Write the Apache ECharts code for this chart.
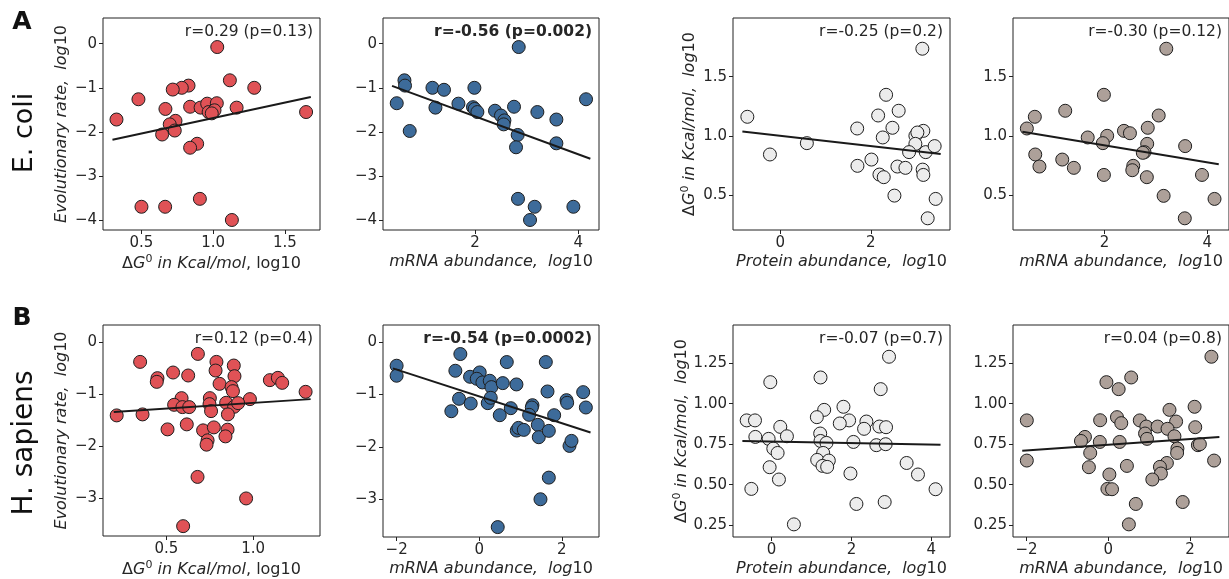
<!DOCTYPE html>
<html>
<head>
<meta charset="utf-8">
<script src="https://cdn.jsdelivr.net/npm/echarts/dist/echarts.min.js"></script>
<style>
html,body{margin:0;padding:0;background:#fff;}
#chart{width:1229px;height:579px;}
</style>
</head>
<body>
<div id="chart"></div>
<script>
// ---------- DATA ----------
// Row A: E. coli
const ecoliDG_A1 = [1.028,1.116,1.286,0.828,0.781,0.718,0.479,0.667,0.839,0.912,0.958,1.025,0.968,1.009,0.990,1.163,1.647,0.326,0.737,0.697,0.732,0.644,0.888,0.839,0.500,0.665,0.907,1.130];
const ecoliRate_A1 = [-0.075,-0.83,-1.0,-0.95,-1.0,-1.04,-1.26,-1.48,-1.43,-1.45,-1.36,-1.35,-1.55,-1.51,-1.58,-1.45,-1.55,-1.72,-1.75,-1.83,-1.97,-2.06,-2.27,-2.36,-3.70,-3.70,-3.52,-4.0];
const fitA1_x = [0.298, 1.68];
const fitA1_y = [-2.18, -1.21];

const ecoliMRNA_A2 = [2.846,0.634,0.645,0.485,0.736,1.176,1.40,1.234,1.679,1.988,1.961,1.994,2.046,2.387,2.503,2.569,2.555,2.755,2.826,2.794,3.207,3.575,3.575,4.149,2.832,3.155,3.065,3.904];
const ecoliRate_A2 = [-0.075,-0.83,-0.95,-1.35,-1.98,-1.0,-1.045,-1.45,-1.36,-1.0,-1.44,-1.48,-1.55,-1.52,-1.63,-1.74,-1.83,-1.43,-2.07,-2.35,-1.55,-1.72,-2.26,-1.26,-3.52,-3.70,-4.0,-3.70];
const fitA2_x = [0.394, 4.233];
const fitA2_y = [-0.955, -2.61];

const ecoliProt_A3 = [3.139,-0.728,-0.229,0.587,2.338,2.616,2.162,1.699,2.478,2.264,2.985,3.161,3.029,2.985,2.846,3.213,3.411,2.014,1.705,2.588,2.765,2.191,2.286,3.146,3.161,2.522,3.433,3.257];
const ecoliDG_A3 = [1.737,1.161,0.842,0.938,1.347,1.212,1.172,1.062,1.068,0.986,1.0,1.042,1.028,0.932,0.862,0.862,0.913,0.799,0.746,0.74,0.729,0.672,0.650,0.714,0.669,0.494,0.466,0.302];
const fitA3_x = [-0.838, 3.544];
const fitA3_y = [1.036, 0.847];

const ecoliMRNA_A4 = [3.202,1.987,1.234,0.642,3.054,0.487,2.841,2.378,2.494,1.672,2.051,1.967,2.830,2.778,2.745,3.569,0.650,1.176,0.732,1.402,2.559,2.540,1.987,2.823,3.897,3.15,4.141,3.562];
const ecoliDG_A4 = [1.737,1.347,1.212,1.161,1.172,1.062,1.068,1.042,1.022,0.986,1.0,0.938,0.932,0.862,0.856,0.913,0.842,0.799,0.74,0.729,0.746,0.709,0.669,0.650,0.669,0.492,0.466,0.302];
const fitA4_x = [0.399, 4.224];
const fitA4_y = [1.034, 0.760];

// Row B: H. sapiens
const humanDG_B1 = [0.681,0.348,0.788,0.888,0.783,0.538,0.625,0.892,0.448,0.444,0.806,0.875,0.883,1.096,1.142,1.167,1.302,0.587,0.75,0.981,0.544,0.592,0.631,0.748,0.844,0.890,0.913,0.213,0.362,0.757,0.854,0.506,0.617,0.711,0.773,0.852,0.840,0.737,0.731,0.679,0.959,0.596];
const humanRate_B1 = [-0.229,-0.382,-0.382,-0.452,-0.548,-0.586,-0.643,-0.656,-0.694,-0.765,-0.803,-0.866,-0.943,-0.732,-0.688,-0.784,-0.956,-1.077,-1.077,-1.096,-1.205,-1.249,-1.249,-1.192,-1.166,-1.243,-1.173,-1.408,-1.389,-1.326,-1.389,-1.676,-1.580,-1.695,-1.638,-1.682,-1.810,-1.886,-1.969,-2.587,-3.0,-3.531];
const fitB1_x = [0.196, 1.331];
const fitB1_y = [-1.345, -1.096];

const humanMRNA_B2 = [-2.0,-2.0,-0.457,-0.578,-0.222,0.012,-0.06,0.077,0.255,0.295,0.667,0.570,0.901,1.612,1.653,2.517,-0.489,-0.206,0.206,0.279,-0.675,0.497,0.764,1.289,1.273,1.208,2.113,2.129,2.582,1.814,1.418,0.909,0.95,1.079,1.442,1.685,2.186,2.234,1.685,1.483,0.448];
const humanRate_B2 = [-0.452,-0.643,-0.229,-0.548,-0.663,-0.580,-0.701,-0.771,-0.739,-0.860,-0.382,-0.784,-0.809,-0.382,-0.943,-0.956,-1.083,-1.173,-1.166,-1.064,-1.32,-1.396,-1.262,-1.205,-1.249,-1.389,-1.109,-1.160,-1.249,-1.396,-1.580,-1.689,-1.638,-1.676,-1.816,-1.695,-1.982,-1.886,-2.587,-3.0,-3.531];
const fitB2_x = [-2.09, 2.695];
const fitB2_y = [-0.503, -1.727];

const humanProt_B3 = [2.942,1.225,-0.033,2.733,1.8,1.317,1.133,-0.625,-0.417,1.942,1.708,2.375,2.317,2.7,2.867,0.217,0.383,-0.408,1.217,1.225,1.375,-0.075,2.05,2.625,2.858,0.042,0.15,1.292,1.142,1.433,1.275,1.392,-0.05,0.183,-0.508,1.975,3.383,3.667,4.108,2.125,2.833,0.558];
const humanDG_B3 = [1.290,1.162,1.133,1.090,0.981,0.962,0.917,0.897,0.897,0.897,0.878,0.890,0.845,0.859,0.855,0.857,0.799,0.795,0.816,0.770,0.758,0.783,0.764,0.744,0.75,0.723,0.696,0.696,0.653,0.649,0.616,0.610,0.608,0.532,0.474,0.569,0.634,0.563,0.472,0.381,0.393,0.255];
const fitB3_x = [-0.733, 4.233];
const fitB3_y = [0.769, 0.746];

const humanMRNA_B4 = [2.525,0.562,-0.044,0.255,2.113,1.499,-1.992,-0.198,0.214,0.319,0.772,1.661,0.933,1.208,1.451,2.129,0.901,1.620,-0.570,-0.667,0.949,-0.206,0.279,2.194,2.242,1.693,1.685,-0.441,-1.992,2.59,1.435,1.265,-0.473,0.457,1.289,0.028,1.079,-0.02,0.093,1.822,0.675,0.505];
const humanDG_B4 = [1.290,1.162,1.133,1.090,0.981,0.962,0.897,0.898,0.917,0.880,0.897,0.890,0.859,0.859,0.845,0.855,0.816,0.799,0.795,0.770,0.783,0.764,0.764,0.744,0.75,0.723,0.696,0.696,0.649,0.649,0.634,0.610,0.608,0.616,0.569,0.563,0.532,0.474,0.472,0.393,0.381,0.255];
const fitB4_x = [-2.104, 2.72];
const fitB4_y = [0.709, 0.795];

// Tick values
const ticksA1x = [0.5, 1.0, 1.5];
const ticksA2x = [2, 4];
const ticksA3x = [0, 2];
const ticksA4x = [2, 4];
const ticksRateA = [0, -1, -2, -3, -4];
const ticksDGA = [0.5, 1.0, 1.5];
const ticksB1x = [0.5, 1.0];
const ticksB2x = [-2, 0, 2];
const ticksB3x = [0, 2, 4];
const ticksB4x = [-2, 0, 2];
const ticksRateB = [0, -1, -2, -3];
const ticksDGB = [0.25, 0.50, 0.75, 1.00, 1.25];

// Annotations
const notes = ['r=0.29 (p=0.13)', 'r=-0.56 (p=0.002)', 'r=-0.25 (p=0.2)', 'r=-0.30 (p=0.12)',
               'r=0.12 (p=0.4)', 'r=-0.54 (p=0.0002)', 'r=-0.07 (p=0.7)', 'r=0.04 (p=0.8)'];
const noteBold = [false, true, false, false, false, true, false, false];

// ---------- STYLE / LAYOUT ----------
const FONT = 'DejaVu Sans';
const TXT = '#262626';
const RED = '#e05256', BLUE = '#3d6b9a', LIGHT = '#ececec', TAUPE = '#ada099';

const rich = {
  n: {fontFamily: FONT, fontSize: 16, color: TXT},
  i: {fontFamily: FONT, fontSize: 16, color: TXT, fontStyle: 'italic'},
  s: {fontFamily: FONT, fontSize: 11, color: TXT, padding: [0, 0, 9, 0]}
};
const nameDG = '{n|Δ}{i|G}{s|0}{i| in Kcal/mol}{n|, log10}';
const nameDGy = '{n|Δ}{i|G}{s|0}{i| in Kcal/mol,  log}{n|10}';
const nameMRNA = '{i|mRNA abundance,  log}{n|10}';
const nameProt = '{i|Protein abundance,  log}{n|10}';
const nameRate = '{i|Evolutionary rate,  log}{n|10}';

const panels = [
  {L:103, T:18, W:217, H:212, vis:217, x:ecoliDG_A1, y:ecoliRate_A1, fx:fitA1_x, fy:fitA1_y, c:RED, xr:[0.232,1.744], yr:[-4.227,0.584], xt:ticksA1x, yt:ticksRateA, xd:1, yd:0, xn:nameDG, yn:nameRate},
  {L:383, T:18, W:216, H:212, vis:216, x:ecoliMRNA_A2, y:ecoliRate_A2, fx:fitA2_x, fy:fitA2_y, c:BLUE, xr:[0.219,4.40], yr:[-4.227,0.584], xt:ticksA2x, yt:ticksRateA, xd:0, yd:0, xn:nameMRNA, yn:null},
  {L:733, T:18, W:217, H:212, vis:217, x:ecoliProt_A3, y:ecoliDG_A3, fx:fitA3_x, fy:fitA3_y, c:LIGHT, xr:[-1.045,3.75], yr:[0.203,1.997], xt:ticksA3x, yt:ticksDGA, xd:0, yd:1, xn:nameProt, yn:nameDGy},
  {L:1013, T:18, W:218, H:212, vis:216, x:ecoliMRNA_A4, y:ecoliDG_A4, fx:fitA4_x, fy:fitA4_y, c:TAUPE, xr:[0.217,4.423], yr:[0.203,1.997], xt:ticksA4x, yt:ticksDGA, xd:0, yd:1, xn:nameMRNA, yn:null},
  {L:103, T:325, W:217, H:212, vis:217, x:humanDG_B1, y:humanRate_B1, fx:fitB1_x, fy:fitB1_y, c:RED, xr:[0.134,1.385], yr:[-3.72,0.325], xt:ticksB1x, yt:ticksRateB, xd:1, yd:0, xn:nameDG, yn:nameRate},
  {L:383, T:325, W:216, H:212, vis:216, x:humanMRNA_B2, y:humanRate_B2, fx:fitB2_x, fy:fitB2_y, c:BLUE, xr:[-2.33,2.90], yr:[-3.72,0.325], xt:ticksB2x, yt:ticksRateB, xd:0, yd:0, xn:nameMRNA, yn:null},
  {L:733, T:325, W:217, H:212, vis:217, x:humanProt_B3, y:humanDG_B3, fx:fitB3_x, fy:fitB3_y, c:LIGHT, xr:[-0.968,4.47], yr:[0.177,1.486], xt:ticksB3x, yt:ticksDGB, xd:0, yd:2, xn:nameProt, yn:nameDGy},
  {L:1013, T:325, W:218, H:212, vis:216, x:humanMRNA_B4, y:humanDG_B4, fx:fitB4_x, fy:fitB4_y, c:TAUPE, xr:[-2.33,2.955], yr:[0.177,1.486], xt:ticksB4x, yt:ticksDGB, xd:0, yd:2, xn:nameMRNA, yn:null}
];

function fmt(d) {
  return function (v) { return Number(v).toFixed(d).replace('-', '\u2212'); };
}

const grid = [], xAxis = [], yAxis = [], series = [], graphic = [];
panels.forEach(function (p, k) {
  grid.push({left: p.L, top: p.T, width: p.W, height: p.H, show: true, borderColor: '#222', borderWidth: 1, backgroundColor: 'transparent'});
  xAxis.push({
    type: 'value', gridIndex: k, min: p.xr[0], max: p.xr[1], position: 'bottom',
    axisLine: {show: false, onZero: false}, splitLine: {show: false},
    axisTick: {show: true, length: 4, lineStyle: {color: '#222'}, customValues: p.xt},
    axisLabel: {customValues: p.xt, formatter: fmt(p.xd), fontFamily: FONT, fontSize: 15, color: TXT, margin: 6},
    name: p.xn, nameLocation: 'middle', nameGap: 24,
    nameTextStyle: {fontFamily: FONT, fontSize: 16, color: TXT, rich: rich}
  });
  const ya = {
    type: 'value', gridIndex: k, min: p.yr[0], max: p.yr[1], position: 'left',
    axisLine: {show: false, onZero: false}, splitLine: {show: false},
    axisTick: {show: true, length: 4, lineStyle: {color: '#222'}, customValues: p.yt},
    axisLabel: {customValues: p.yt, formatter: fmt(p.yd), fontFamily: FONT, fontSize: 15, color: TXT, margin: 6}
  };
  if (p.yn) {
    ya.name = p.yn; ya.nameLocation = 'middle'; ya.nameRotate = 90; ya.nameGap = 33;
    ya.nameTextStyle = {fontFamily: FONT, fontSize: 16, color: TXT, rich: rich};
  }
  yAxis.push(ya);
  series.push({
    type: 'scatter', xAxisIndex: k, yAxisIndex: k,
    data: p.x.map(function (v, i) { return [v, p.y[i]]; }),
    symbol: 'circle', symbolSize: 13,
    itemStyle: {color: p.c, borderColor: '#1e1e1e', borderWidth: 1, opacity: 1},
    z: 2
  });
  series.push({
    type: 'line', xAxisIndex: k, yAxisIndex: k,
    data: p.fx.map(function (v, i) { return [v, p.fy[i]]; }),
    showSymbol: false, symbol: 'none',
    lineStyle: {color: '#1a1a1a', width: 2},
    z: 3, silent: true
  });
  graphic.push({
    type: 'text', x: p.L + p.vis - 7, y: p.T + 14,
    style: {text: notes[k], fontFamily: FONT, fontSize: 15.5, fontWeight: noteBold[k] ? 'bold' : 'normal',
            fill: TXT, align: 'right', verticalAlign: 'middle'}
  });
});

graphic.push({type: 'text', x: 22, y: 22, style: {text: 'A', fontFamily: FONT, fontSize: 25, fontWeight: 'bold', fill: '#111', align: 'center', verticalAlign: 'middle'}});
graphic.push({type: 'text', x: 22, y: 318, style: {text: 'B', fontFamily: FONT, fontSize: 25, fontWeight: 'bold', fill: '#111', align: 'center', verticalAlign: 'middle'}});
graphic.push({type: 'text', x: 25, y: 133, rotation: Math.PI / 2, style: {text: 'E. coli', fontFamily: FONT, fontSize: 27, fill: '#111', align: 'center', verticalAlign: 'middle'}});
graphic.push({type: 'text', x: 25, y: 443, rotation: Math.PI / 2, style: {text: 'H. sapiens', fontFamily: FONT, fontSize: 28, fill: '#111', align: 'center', verticalAlign: 'middle'}});

const chart = echarts.init(document.getElementById('chart'), null, {renderer: 'canvas'});
chart.setOption({
  animation: false,
  backgroundColor: '#ffffff',
  grid: grid, xAxis: xAxis, yAxis: yAxis, series: series, graphic: graphic
});
</script>
</body>
</html>
